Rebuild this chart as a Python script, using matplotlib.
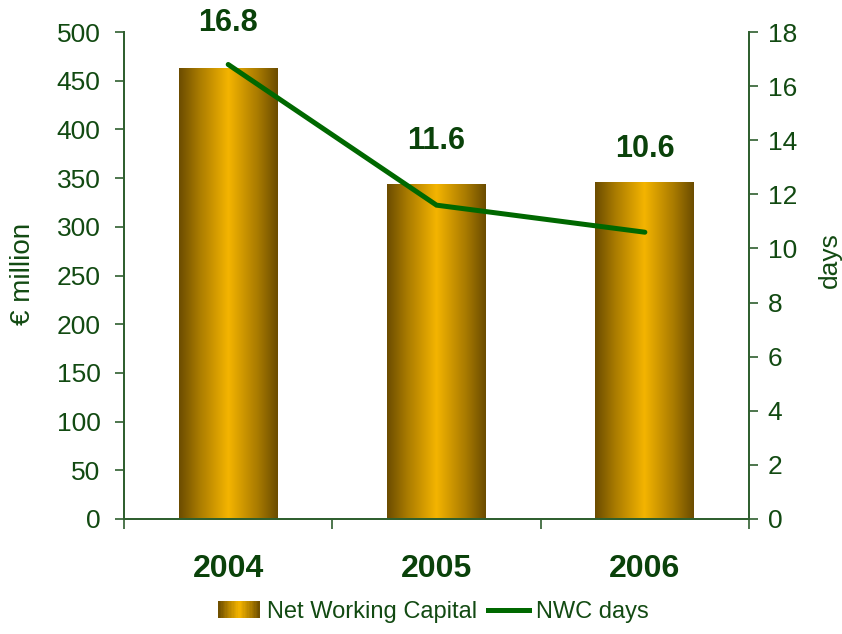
import numpy as np
import matplotlib
matplotlib.use('Agg')
import matplotlib.pyplot as plt
from matplotlib.colors import LinearSegmentedColormap
from matplotlib.patches import Rectangle
from matplotlib.legend_handler import HandlerBase
from matplotlib.lines import Line2D

# datos del grafico
years = ['2004', '2005', '2006']
nwc = [463, 343, 345]            # € million
nwc_days = [16.8, 11.6, 10.6]    # days
day_labels = ['16.8', '11.6', '10.6']
label_offsets = [41, 64, 83]     # pixels above each point

plt.rcParams['font.family'] = ['Liberation Sans', 'DejaVu Sans']

txt_green = '#124a12'
dark_green = '#0a420a'
line_green = '#006800'
spine_col = '#2f5f2f'

gold = LinearSegmentedColormap.from_list(
    'gold', [(0, '#6b4c00'), (0.2, '#a87a00'), (0.5, '#f4b400'),
             (0.8, '#a87a00'), (1, '#6b4c00')])


class GradientHandler(HandlerBase):
    def create_artists(self, legend, orig_handle, xdescent, ydescent,
                       width, height, fontsize, trans):
        n = 30
        arts = []
        for i in range(n):
            r = Rectangle((-xdescent + i * width / n, -ydescent), width / n * 1.05,
                          height, facecolor=gold((i + 0.5) / n), edgecolor='none',
                          transform=trans)
            arts.append(r)
        return arts


fig = plt.figure(figsize=(8.42, 6.34), dpi=100)
ax = fig.add_axes([0.1473, 0.1814, 0.7423, 0.7681])
ax2 = ax.twinx()

x = np.arange(len(years))
bars = ax.bar(x, nwc, width=0.475, color='none', edgecolor='none', zorder=2)
grad = np.linspace(0, 1, 256).reshape(1, -1)
for b in bars:
    ax.imshow(grad, cmap=gold, aspect='auto', interpolation='bilinear',
              extent=[b.get_x(), b.get_x() + b.get_width(), 0, b.get_height()],
              zorder=2)

ax2.plot(x, nwc_days, color=line_green, lw=3.6, solid_capstyle='round',
         solid_joinstyle='miter', zorder=3)
for xi, yi, lbl, off in zip(x, nwc_days, day_labels, label_offsets):
    ax2.annotate(lbl, (xi, yi), xytext=(0, off), textcoords='offset pixels',
                 ha='center', va='center', fontsize=22, fontweight='bold',
                 color=dark_green)

ax.set_xlim(-0.5, 2.5)
ax.set_ylim(0, 500)
ax2.set_ylim(0, 18)
ax.set_yticks(np.arange(0, 501, 50))
ax2.set_yticks(np.arange(0, 19, 2))

ax.set_xticks(x)
ax.set_xticklabels(years, fontweight='bold', fontsize=23, color=dark_green)
ax.set_xticks([-0.5, 0.5, 1.5, 2.5], minor=True)
ax.tick_params(axis='x', which='major', length=0, pad=25)
ax.tick_params(axis='x', which='minor', length=7, width=1.2, color=spine_col,
               direction='out')
ax.tick_params(axis='y', length=6.5, width=1.2, color=spine_col, pad=10.5,
               labelsize=19, labelcolor=txt_green)
ax2.tick_params(axis='y', length=6.5, width=1.2, color=spine_col, pad=7,
                labelsize=19, labelcolor=txt_green)

for a in (ax, ax2):
    a.spines['top'].set_visible(False)
    for s in ('left', 'right', 'bottom'):
        a.spines[s].set_color(spine_col)
        a.spines[s].set_linewidth(1.3)

ax.set_ylabel('€ million', fontsize=20, color=txt_green)
ax.yaxis.set_label_coords(-0.141, 0.503)
ax2.set_ylabel('days', fontsize=19, color=txt_green)
ax2.yaxis.set_label_coords(1.110, 0.532)

handles = [Rectangle((0, 0), 1, 1), Line2D([], [], color=line_green, lw=3.6)]
leg = fig.legend(handles, ['Net Working Capital', 'NWC days'],
                 handler_map={Rectangle: GradientHandler()},
                 loc='center', bbox_to_anchor=(0.515, 0.035), ncol=2,
                 frameon=False, fontsize=17, handlelength=1.75, handleheight=0.7,
                 handletextpad=0.3, columnspacing=0.45)
for t in leg.get_texts():
    t.set_color(txt_green)

fig.savefig('out.png', dpi=100)
